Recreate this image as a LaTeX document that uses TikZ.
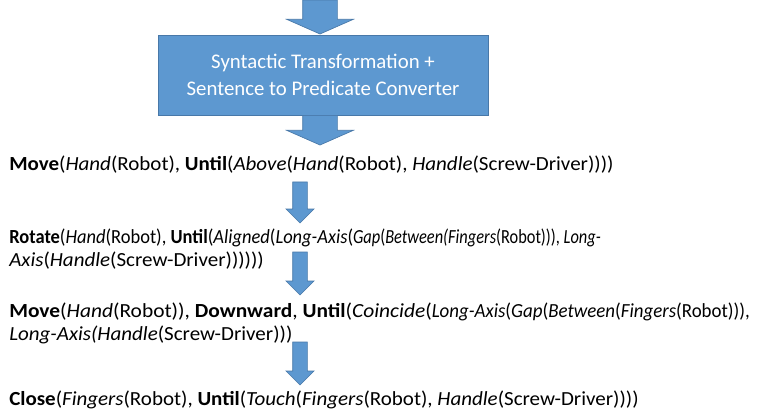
\documentclass[tikz,border=0pt]{standalone}
\usepackage{fontspec}
\setmainfont{Carlito}
\usetikzlibrary{positioning,calc}
\definecolor{boxblue}{RGB}{93,152,208}
\definecolor{boxedge}{RGB}{72,120,168}

\newcommand{\blockarrow}[5]{%
  \path[blockarr] let \p1=(#1), \p2=(#2) in
    (\x1-#3,\y1) -- (\x1+#3,\y1) -- (\x1+#3,\y2+#5) -- (\x1+#4,\y2+#5)
    -- (\x2,\y2) -- (\x1-#4,\y2+#5) -- (\x1-#3,\y2+#5) -- cycle;}

\begin{document}
\begin{tikzpicture}[x=0.75pt,y=-0.75pt]
\tikzstyle{convbox} = [fill=boxblue,draw=boxedge,line width=0.6pt,text=white,align=center,
    minimum width=247.5pt,minimum height=60pt,font=\fontsize{15.6}{20.25}\selectfont]
\tikzset{blockarr/.style={fill=boxblue,draw=boxedge,line width=0.5pt}}
\tikzset{stepline/.style={anchor=base west,inner sep=0pt,align=left,xscale=1.05,transform shape,
    font=\fontsize{15}{17.25}\selectfont}}
    \useasboundingbox (0,0) rectangle (780,413);
    \node[convbox] (conv) at (323,75) {Syntactic Transformation +\\Sentence to Predicate Converter};

    \node[stepline] (mv1) at (9,171) {\textbf{Move}(\textit{Hand}(Robot), \textbf{Until}(\textit{Above}(\textit{Hand}(Robot), \textit{Handle}(Screw-Driver))))};
    \node[stepline] (rot) at (9,266) {\scalebox{0.88}[1]{\textbf{Rotate}(\textit{Hand}(Robot), \textbf{Until}(\textit{Aligned}(\textit{Long-Axis}(}\scalebox{0.78}[1]{\textit{Gap}(\textit{Between(Fingers}(Robot))), \textit{Long-}}\\
        \textit{Axis}(\textit{Handle}(Screw-Driver))))))};
    \node[stepline] (mv2) at (9,340) {\scalebox{1.02}[1]{\textbf{Move}(\textit{Hand}(Robot)), \textbf{Downward}, \textbf{Until}(\textit{Coincide}(}\scalebox{0.9}[1]{\textit{Long-Axis}(\textit{Gap}(\textit{Between}(\textit{Fingers}(Robot))),}\\
        \textit{Long-Axis(Handle}(Screw-Driver)))};
    \node[stepline] (cls) at (9,405) {\textbf{Close}(\textit{Fingers}(Robot), \textbf{Until}(\textit{Touch}(\textit{Fingers}(Robot), \textit{Handle}(Screw-Driver))))};

    \coordinate (in0) at (320,0);
    \coordinate (in1) at (320,34);
    \coordinate (out0) at (conv.south -| in0);
    \coordinate (out1) at (320,145);
    \coordinate (a1) at (300,182);
    \coordinate (b1) at (300,223);
    \coordinate (a2) at (300,252);
    \coordinate (b2) at (300,295);
    \coordinate (a3) at (300,342);
    \coordinate (b3) at (300,385);

    \blockarrow{in0}{in1}{13pt}{25pt}{11pt}
    \blockarrow{out0}{out1}{13pt}{25pt}{11pt}
    \blockarrow{a1}{b1}{5.5pt}{10.5pt}{10.5pt}
    \blockarrow{a2}{b2}{5.5pt}{10.5pt}{10.5pt}
    \blockarrow{a3}{b3}{5.5pt}{10.5pt}{10.5pt}
\end{tikzpicture}
\end{document}
